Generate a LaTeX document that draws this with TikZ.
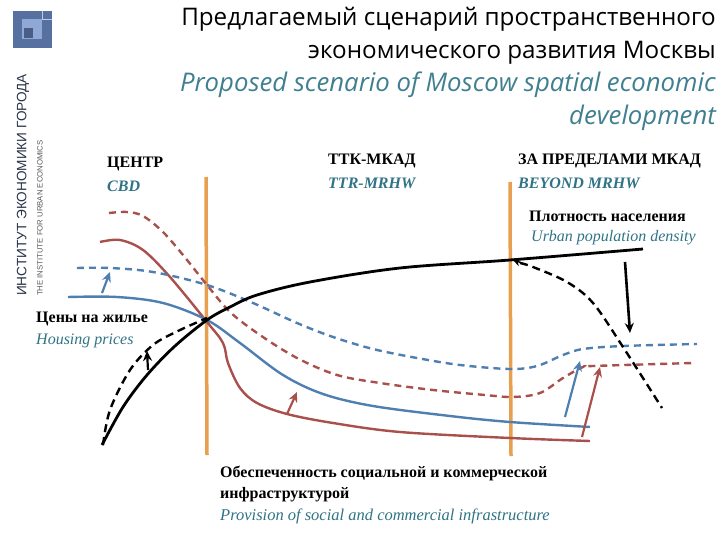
\documentclass[tikz,border=0pt]{standalone}
\usepackage{fontspec}
\setmainfont{Liberation Serif}
\newfontfamily\titlefont{Open Sans}
\newfontfamily\logofont{Liberation Sans}
\usetikzlibrary{arrows.meta}
\definecolor{cblue}{HTML}{4F7FB0}
\definecolor{cred}{HTML}{A9504C}
\definecolor{corange}{HTML}{E8A050}
\definecolor{cteal}{HTML}{2F7385}
\definecolor{ctitle}{HTML}{3F7F90}
\definecolor{logoa}{HTML}{56719F}
\definecolor{logob}{HTML}{8FA8D6}
\definecolor{logoc}{HTML}{4A5E85}
\tikzset{
  x=1pt,y=-1pt,
  curve/.style={line width=2.4pt,smooth,tension=0.55},
  dashcurve/.style={curve,dash pattern=on 7pt off 5pt},
  hint/.style={line width=2.2pt,-{Stealth[length=10pt,width=9pt]}},
  zone/.style={corange,line width=3.5pt},
  lab/.style={inner sep=0pt,anchor=west,font=\fontsize{16}{19}\selectfont\bfseries,align=left},
  labit/.style={inner sep=0pt,anchor=west,font=\fontsize{16}{19}\selectfont\itshape,text=cteal,align=left},
  labbi/.style={labit,font=\fontsize{16}{19}\selectfont\itshape\bfseries},
}
\begin{document}
\begin{tikzpicture}
\useasboundingbox (0,0) rectangle (720,540);
% logo
\fill[logoa] (13,11) rectangle (52,48);
\fill[logob] (22,19) rectangle (42,39);
\fill[logoc] (24,28) rectangle (33,38);
\draw[logob!60!white,line width=0.6pt] (42,11) -- (42,19) (42,19) -- (52,19);
\node[rotate=90,inner sep=0pt,anchor=west,text=logoc!55!black,font=\logofont\fontsize{13.6}{14}\selectfont] (logoA) at (23,296) {ИНСТИТУТ ЭКОНОМИКИ ГОРОДА};
\node[rotate=90,inner sep=0pt,anchor=west,text=black!65,font=\logofont\fontsize{7.75}{8}\selectfont] (logoB) at (40,296) {THE INSTITUTE FOR URBAN ECONOMICS};
% title
\node[inner sep=0pt,anchor=north east,align=right,font=\titlefont\fontsize{24.2}{33}\selectfont] (title) at (716,7)
 {Предлагаемый сценарий пространственного\\экономического развития Москвы\\{\fontsize{25.7}{33}\selectfont\itshape\color{ctitle}Proposed scenario of Moscow spatial economic}\\{\fontsize{25.7}{33}\selectfont\itshape\color{ctitle}development}};
% zones
\draw[zone] (206,177) -- (207,455);
\draw[zone] (510,182) -- (511,456);
% headers
\node[lab] (cbdru) at (107,164) {ЦЕНТР};
\node[labbi] (cbden) at (107,186) {CBD};
\node[lab] (ttkru) at (328,161) {ТТК-МКАД};
\node[labbi] (ttken) at (328,183) {TTR-MRHW};
\node[lab] (outru) at (518,161) {ЗА ПРЕДЕЛАМИ МКАД};
\node[labbi] (outen) at (518,183) {BEYOND MRHW};
\node[lab] (denru) at (529,216) {Плотность населения};
\node[labit] (denen) at (531,238) {Urban population density};
\node[lab] (priceru) at (36,319) {Цены на жилье};
\node[labit] (priceen) at (36,341) {Housing prices};
\node[lab,font=\fontsize{16}{21.5}\selectfont\bfseries] (infra) at (220,495) {Обеспеченность социальной и коммерческой\\инфраструктурой\\{\fontsize{16.5}{21.5}\selectfont\mdseries\itshape\color{cteal}Provision of social and commercial infrastructure}};
% curves
\draw[cred,dashcurve] plot coordinates {(109,213) (127,212) (143,216) (163,232) (183,255) (207,285) (230,312) (260,335) (297,358) (337,375) (380,383) (433,390) (485,395) (513,397) (540,393) (563,378) (583,367) (593,366) (693,363)};
\draw[cred,curve] plot coordinates {(100,242) (120,240) (143,250) (170,277) (207,322) (223,343) (228,363) (240,388) (257,403) (287,414) (333,423) (400,432) (510,438) (590,441)};
\draw[cblue,dashcurve] plot coordinates {(77,268) (110,268) (153,272) (207,285) (253,303) (297,323) (333,337) (373,349) (417,358) (460,365) (510,369) (537,366) (563,355) (583,349) (623,346) (697,344)};
\draw[cblue,curve] plot coordinates {(68,297) (117,297) (163,303) (207,320) (240,343) (283,375) (323,394) (373,406) (450,416) (510,422) (590,427)};
\draw[black,line width=2.8pt,smooth,tension=0.55] plot coordinates {(102,445) (123,407) (147,375) (175,346) (207,320) (230,307) (257,295) (310,282) (400,268) (510,260) (643,249)};
\draw[black,line width=2.4pt,smooth,tension=0.55,dash pattern=on 8pt off 5pt] plot coordinates {(103,445) (110,410) (130,370) (153,345) (178,331) (207,318)};
\draw[black,line width=2.4pt,smooth,tension=0.55,dash pattern=on 8pt off 5pt] plot coordinates {(520,263) (533,267) (567,282) (593,303) (623,347) (662,408)};
% shift arrows
\coordinate (a1s) at (102,293); \coordinate (a1e) at (110,272);
\coordinate (a2s) at (148,370); \coordinate (a2e) at (147,351);
\coordinate (a3s) at (287,414); \coordinate (a3e) at (297,392);
\coordinate (a4s) at (565,417); \coordinate (a4e) at (580,361);
\coordinate (a5s) at (582,437); \coordinate (a5e) at (600,367);
\coordinate (a6s) at (625,262); \coordinate (a6e) at (630,333);
\coordinate (a7s) at (524,264); \coordinate (a7e) at (512,259);
\draw[hint,cblue] (a1s) -- (a1e);
\draw[hint,black] (a2s) -- (a2e);
\draw[hint,cred] (a3s) -- (a3e);
\draw[hint,cblue] (a4s) -- (a4e);
\draw[hint,cred] (a5s) -- (a5e);
\draw[hint,black,line width=2.6pt] (a6s) -- (a6e);
\draw[black,-{Stealth[length=9pt,width=8pt]},line width=1.5pt] (a7s) -- (a7e);
\end{tikzpicture}
\end{document}
